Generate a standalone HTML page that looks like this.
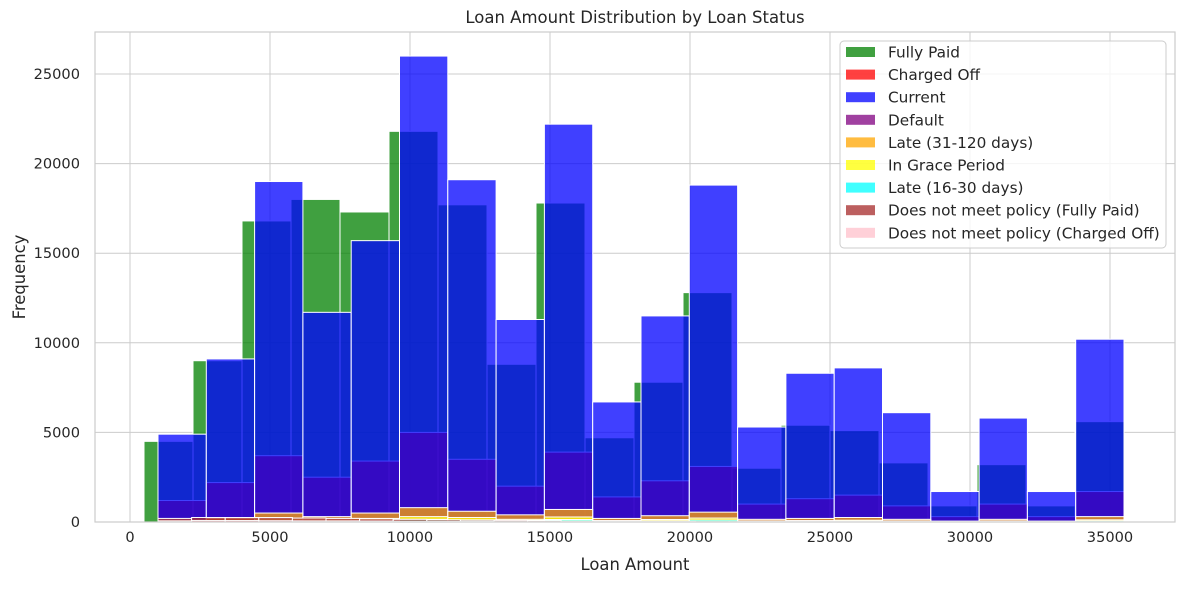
<!DOCTYPE html>
<html><head><meta charset="utf-8"><style>
body{margin:0;background:#fff;font-family:"Liberation Sans","DejaVu Sans",sans-serif;}
svg text{font-family:"DejaVu Sans","Liberation Sans",sans-serif;fill:#262626;}
</style></head><body>
<svg id="c" width="1184" height="584" xmlns="http://www.w3.org/2000/svg"></svg>
<script>
const statusNames=["Fully Paid","Charged Off","Current","Default","Late (31-120 days)","In Grace Period","Late (16-30 days)","Does not meet policy (Fully Paid)","Does not meet policy (Charged Off)"];
const statusColors=["#008000","#ff0000","#0000ff","#800080","#ffa500","#ffff00","#00ffff","#a52a2a","#ffc0cb"];
const binStarts=[500,1000,1000,1000,1000,1000,1000,1000,1000];
const binWidths=[1750,1725,1725,1725,1725,1725,1725,1200,1200];
const fullyPaid=[4500,9000,16800,18000,17300,21800,17700,8800,17800,4700,7800,12800,3000,5400,5100,3300,900,3200,900,5600];
const chargedOff=[1200,2200,3700,2500,3400,5000,3500,2000,3900,1400,2300,3100,1000,1300,1500,900,300,1000,300,1700];
const current=[4900,9100,19000,11700,15700,26000,19100,11300,22200,6700,11500,18800,5300,8300,8600,6100,1700,5800,1700,10200];
const defaultS=[10,20,40,30,40,60,40,30,50,20,30,40,15,20,20,15,5,15,5,25];
const late31=[100,200,500,300,500,800,600,400,700,200,350,550,150,200,250,150,50,150,50,300];
const grace=[40,80,200,120,200,300,250,150,280,80,140,220,60,80,100,60,20,60,20,120];
const late16=[20,40,100,60,100,150,120,80,140,40,70,110,30,40,50,30,10,30,10,60];
const dnmFully=[200,250,250,250,220,200,180,150,120,100,90,80,60,50,40,30,20,20,10,10];
const dnmCharged=[60,80,80,70,60,60,50,40,30,30,20,20,15,15,10,10,5,5,5,5];
const seriesData=[fullyPaid,chargedOff,current,defaultS,late31,grace,late16,dnmFully,dnmCharged];
const xTicks=[0,5000,10000,15000,20000,25000,30000,35000];
const yTicks=[0,5000,10000,15000,20000,25000];

const L=95,R=1175,T=32,B=522;
const X=v=>130+v*0.028;
const Y=v=>B-v*0.01792;
const svg=document.getElementById('c');
const NS="http://www.w3.org/2000/svg";
function mk(t,a,p){const e=document.createElementNS(NS,t);for(const k in a)e.setAttribute(k,a[k]);(p||svg).appendChild(e);return e;}

xTicks.forEach(t=>{const l=mk('line',{x1:X(t),x2:X(t),y1:T,y2:B,stroke:'#cccccc','stroke-width':1});

const tx=mk('text',{x:X(t),y:B+20,'text-anchor':'middle','font-size':14.6});tx.textContent=t;
});
yTicks.forEach(t=>{const l=mk('line',{x1:L,x2:R,y1:Y(t),y2:Y(t),stroke:'#cccccc','stroke-width':1});

const tx=mk('text',{x:L-15,y:Y(t)+5,'text-anchor':'end','font-size':14.6});tx.textContent=t;
});

seriesData.forEach((arr,si)=>{
 const g=mk('g',{});
 
 
 arr.forEach((v,i)=>{
  const x0=X(binStarts[si]+i*binWidths[si]),x1=X(binStarts[si]+(i+1)*binWidths[si]);
  const r=mk('rect',{x:x0,y:Y(v),width:x1-x0,height:B-Y(v),fill:statusColors[si],'fill-opacity':0.75,stroke:'#ffffff','stroke-width':1},g);
  
  
 });
});

const fr=mk('rect',{x:L,y:T,width:R-L,height:B-T,fill:'none',stroke:'#cccccc','stroke-width':1.2});


const tt=mk('text',{x:(L+R)/2,y:23,'text-anchor':'middle','font-size':16.5});tt.textContent='Loan Amount Distribution by Loan Status';

const xl=mk('text',{x:(L+R)/2,y:570,'text-anchor':'middle','font-size':16.4});xl.textContent='Loan Amount';

const yl=mk('text',{x:0,y:0,'text-anchor':'middle','font-size':16.4,transform:'translate(25,277) rotate(-90)'});yl.textContent='Frequency';


const lg=mk('g',{});

mk('rect',{x:840,y:41,width:326,height:207,rx:4,fill:'#ffffff','fill-opacity':0.8,stroke:'#cccccc'},lg);
statusNames.forEach((n,i)=>{
 const y=52+i*22.6;
 const e=mk('g',{},lg);
 
 mk('rect',{x:846,y:y-5,width:29,height:10,fill:statusColors[i],'fill-opacity':0.75},e);
 const t=mk('text',{x:888,y:y+5.5,'font-size':15.3},e);t.textContent=n;
});
</script>
</body></html>
